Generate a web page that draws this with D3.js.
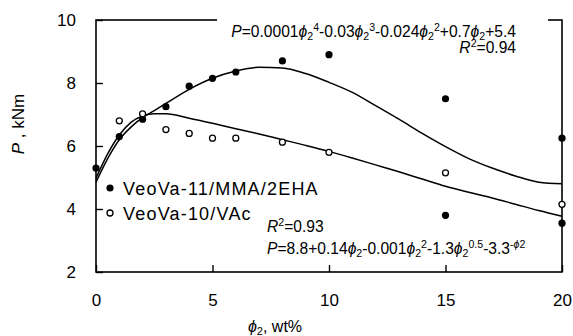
<!DOCTYPE html>
<html>
<head>
<meta charset="utf-8">
<script src="https://cdn.jsdelivr.net/npm/d3@7"></script>
<style>
  body { margin: 0; background: #fff; }
  text { font-family: "Liberation Sans", Arial, sans-serif; fill: #000; }
</style>
</head>
<body>
<div id="chart"></div>
<script>
// data
var xTicks = [0, 5, 10, 15, 20];
var yTicks = [2, 4, 6, 8, 10];

// VeoVa-11/MMA/2EHA (filled)
var phiA = [0, 1, 2, 3, 4, 5, 6, 8, 10, 15, 15, 20, 20];
var pA   = [5.3, 6.3, 6.85, 7.25, 7.9, 8.15, 8.35, 8.7, 8.9, 7.5, 3.8, 6.25, 3.55];

// VeoVa-10/VAc (open)
var phiB = [1, 2, 3, 4, 5, 6, 8, 10, 15, 20];
var pB   = [6.8, 7.02, 6.52, 6.4, 6.25, 6.25, 6.12, 5.8, 5.15, 4.15];

// fitted curves as drawn
var fitPhi = [0, 0.5, 1, 1.5, 2, 2.5, 3, 4, 5, 6, 7, 8, 9, 10, 11, 12, 13, 14, 15, 16, 17, 18, 19, 20];
var fitA   = [4.85, 5.6, 6.2, 6.6, 6.9, 7.12, 7.35, 7.8, 8.15, 8.38, 8.5, 8.48, 8.3, 8.02, 7.7, 7.28, 6.85, 6.4, 5.98, 5.6, 5.3, 5.05, 4.85, 4.8];
var fitB   = [4.98, 5.75, 6.35, 6.75, 6.95, 7.02, 7.02, 6.88, 6.72, 6.55, 6.38, 6.2, 6.02, 5.83, 5.62, 5.4, 5.18, 4.95, 4.72, 4.53, 4.35, 4.15, 3.95, 3.77];

var legendNames = ["VeoVa-11/MMA/2EHA", "VeoVa-10/VAc"];

var eqTop = [["P","i"],["=0.0001",""],["ϕ","i"],["2","sub"],["4","sup"],["-0.03",""],["ϕ","i"],["2","sub"],["3","sup"],
             ["-0.024",""],["ϕ","i"],["2","sub"],["2","sup"],["+0.7",""],["ϕ","i"],["2","sub"],["+5.4",""]];
var r2Top = [["R","i"],["2","sup"],["=0.94",""]];
var eqBot = [["P","i"],["=8.8+0.14",""],["ϕ","i"],["2","sub"],["-0.001",""],["ϕ","i"],["2","sub"],["2","sup"],
             ["-1.3",""],["ϕ","i"],["2","sub"],["0.5","sup"],["-3.3",""],["-","sup"],["ϕ","isup"],["2","sup"]];
var r2Bot = [["R","i"],["2","sup"],["=0.93",""]];

var width = 573, height = 336;
var pLeft = 96, pRight = 562, pTop = 20, pBottom = 272;

var svg = d3.select("#chart").append("svg")
    .attr("width", width)
    .attr("height", height);

var x = d3.scaleLinear().domain([0, 20]).range([pLeft, pRight]);
var y = d3.scaleLinear().domain([2, 10]).range([pBottom, pTop]);

// frame
svg.append("rect")
    .attr("x", pLeft).attr("y", pTop)
    .attr("width", pRight - pLeft).attr("height", pBottom - pTop)
    .attr("fill", "none").attr("stroke", "#000").attr("stroke-width", 1.6);

// axes with inward ticks
var xAxis = svg.append("g")
    .attr("transform", "translate(0," + pBottom + ")")
    .call(d3.axisBottom(x).tickValues(xTicks).tickSize(-7).tickPadding(22).tickFormat(d3.format("d")));
var yAxis = svg.append("g")
    .attr("transform", "translate(" + pLeft + ",0)")
    .call(d3.axisLeft(y).tickValues(yTicks).tickSize(-7).tickPadding(20).tickFormat(d3.format("d")));
[xAxis, yAxis].forEach(function(g) {
    g.select(".domain").remove();
    g.selectAll("line").attr("stroke", "#000").attr("stroke-width", 1.4);
    g.selectAll("text").style("font-size", "17px").attr("font-family", null);
});

// fitted lines
var line = d3.line()
    .x(function(d) { return x(d[0]); })
    .y(function(d) { return y(d[1]); })
    .curve(d3.curveMonotoneX);
[fitA, fitB].forEach(function(arr) {
    svg.append("path")
        .datum(fitPhi.map(function(p, i) { return [p, arr[i]]; }))
        .attr("d", line)
        .attr("fill", "none")
        .attr("stroke", "#000")
        .attr("stroke-width", 1.5);
});

// points
svg.selectAll(".ptA")
    .data(phiA.map(function(p, i) { return [p, pA[i]]; }))
    .enter().append("circle")
    .attr("class", "ptA")
    .attr("cx", function(d) { return x(d[0]); })
    .attr("cy", function(d) { return y(d[1]); })
    .attr("r", 3.6)
    .attr("fill", "#000");
svg.selectAll(".ptB")
    .data(phiB.map(function(p, i) { return [p, pB[i]]; }))
    .enter().append("circle")
    .attr("class", "ptB")
    .attr("cx", function(d) { return x(d[0]); })
    .attr("cy", function(d) { return y(d[1]); })
    .attr("r", 3)
    .attr("fill", "#fff")
    .attr("stroke", "#000")
    .attr("stroke-width", 1.3);

// text with sub/superscripts
function eq(xx, yy, anchor, size, parts) {
    var t = svg.append("text")
        .attr("x", xx).attr("y", yy)
        .attr("text-anchor", anchor)
        .style("font-size", size + "px");
    var cur = 0;
    parts.forEach(function(p) {
        var k = p[1];
        var target = 0;
        if (k == "sub") target = 3;
        if (k == "sup" || k == "isup") target = -6;
        var s = t.append("tspan").text(p[0]).attr("dy", target - cur);
        cur = target;
        if (k == "i" || k == "isup") s.style("font-style", "italic");
        if (k != "" && k != "i") s.style("font-size", (size * 0.68) + "px");
    });
    return t;
}

// white box breaking the top frame line behind the equation
svg.append("rect")
    .attr("x", 217).attr("y", 14)
    .attr("width", 548 - 217).attr("height", 12)
    .attr("fill", "#fff");

eq(516, 37, "end", 15.6, eqTop);
eq(516, 53, "end", 15.6, r2Top);
eq(267, 232, "start", 15.6, r2Bot);
eq(267, 254, "start", 15.6, eqBot);

// legend
var leg = svg.append("g");
legendNames.forEach(function(name, i) {
    var ly = 188 + i * 25;
    leg.append("circle")
        .attr("cx", 110).attr("cy", ly)
        .attr("r", i == 0 ? 3.6 : 3)
        .attr("fill", i == 0 ? "#000" : "#fff")
        .attr("stroke", "#000")
        .attr("stroke-width", i == 0 ? 0 : 1.3);
    leg.append("text")
        .attr("x", 123).attr("y", ly + 7)
        .style("font-size", "18px")
        .style("letter-spacing", "1.2px")
        .text(name);
});

// axis titles
var yl = svg.append("text")
    .attr("transform", "translate(24,124) rotate(-90)")
    .attr("text-anchor", "middle")
    .style("font-size", "17px");
yl.append("tspan").text("P").style("font-style", "italic");
yl.append("tspan").text(" , kNm");

var xl = svg.append("text")
    .attr("x", 275).attr("y", 332)
    .attr("text-anchor", "middle")
    .style("font-size", "16px");
xl.append("tspan").text("ϕ").style("font-style", "italic");
xl.append("tspan").text("2").attr("dy", 3).style("font-size", "11px");
xl.append("tspan").text(", wt%").attr("dy", -3);
</script>
</body>
</html>
